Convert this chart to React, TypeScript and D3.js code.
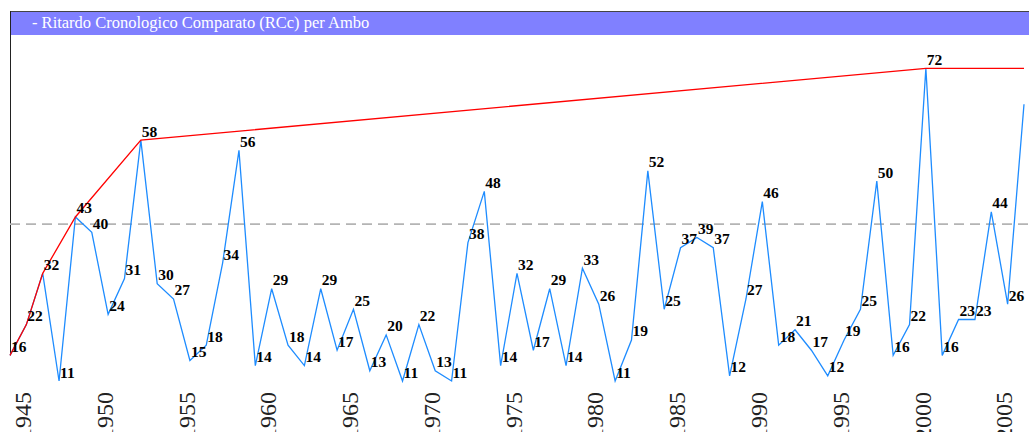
import React from "react";
import * as d3 from "d3";

const TITLE = "- Ritardo Cronologico Comparato (RCc) per Ambo";
const startYear = 1945;
const values = [
  16, 22, 32, 11, 43, 40, 24, 31, 58, 30, 27, 15, 18, 34, 56, 14, 29, 18, 14, 29, 17,
  25, 13, 20, 11, 22, 13, 11, 38, 48, 14, 32, 17, 29, 14, 33, 26, 11, 19, 52, 25, 37,
  39, 37, 12, 27, 46, 18, 21, 17, 12, 19, 25, 50, 16, 22, 72, 16, 23, 23, 44, 26, 65,
];
const years = values.map((_, i) => startYear + i);
const tickYears = [1945, 1950, 1955, 1960, 1965, 1970, 1975, 1980, 1985, 1990, 1995, 2000, 2005];
const refLine = 41.6;

const W = 1029;
const H = 432;

export default function App() {
  const x = d3.scaleLinear().domain([years[0], years[years.length - 1]]).range([10, 1024]);
  const y = d3.scaleLinear().domain([0, 72]).range([437.4, 68.3]);

  const pts: [number, number][] = years.map((yr, i) => [yr, values[i]]);
  const line = d3
    .line<[number, number]>()
    .x((d) => x(d[0]))
    .y((d) => y(d[1]));

  // record envelope (running maxima) extended to the last year
  const rec: [number, number][] = [];
  let mx = -Infinity;
  pts.forEach((p) => {
    if (p[1] > mx) {
      mx = p[1];
      rec.push(p);
    }
  });
  rec.push([years[years.length - 1], mx]);

  const serif = "'Liberation Serif', 'Times New Roman', Times, serif";

  return (
    <svg
      width={W}
      height={H}
      style={{ position: "absolute", left: 0, top: 0, background: "#fff" }}
    >
      <rect x={10} y={11} width={W - 10} height={24} fill="#8080ff" />
      <line x1={10} x2={W} y1={11.5} y2={11.5} stroke="#444" strokeWidth={1} />
      <line x1={10.5} x2={10.5} y1={11} y2={y(values[0])} stroke="#222" strokeWidth={1} />
      <text x={32} y={27.5} fill="#fff" fontFamily={serif} fontSize={16.5}>
        {TITLE}
      </text>

      <line
        x1={10}
        x2={W}
        y1={y(refLine)}
        y2={y(refLine)}
        stroke="#b4b4b4"
        strokeWidth={1.6}
        strokeDasharray="10,6"
      />

      <path d={line(pts) || ""} fill="none" stroke="#1e8cff" strokeWidth={1.3} />
      <path d={line(rec) || ""} fill="none" stroke="#ff0000" strokeWidth={1.3} />

      {pts.slice(0, -1).map((p, i) => (
        <text
          key={i}
          x={x(p[0]) + 1}
          y={y(p[1]) - 3.5}
          fontFamily={serif}
          fontWeight="bold"
          fontSize={15.5}
          fill="#000"
        >
          {p[1]}
        </text>
      ))}

      {tickYears.map((yr) => (
        <text
          key={yr}
          transform={`translate(${x(yr) + 21},392) rotate(-90)`}
          textAnchor="end"
          fontFamily={serif}
          fontSize={24}
          fill="#222"
        >
          {yr}
        </text>
      ))}
    </svg>
  );
}
